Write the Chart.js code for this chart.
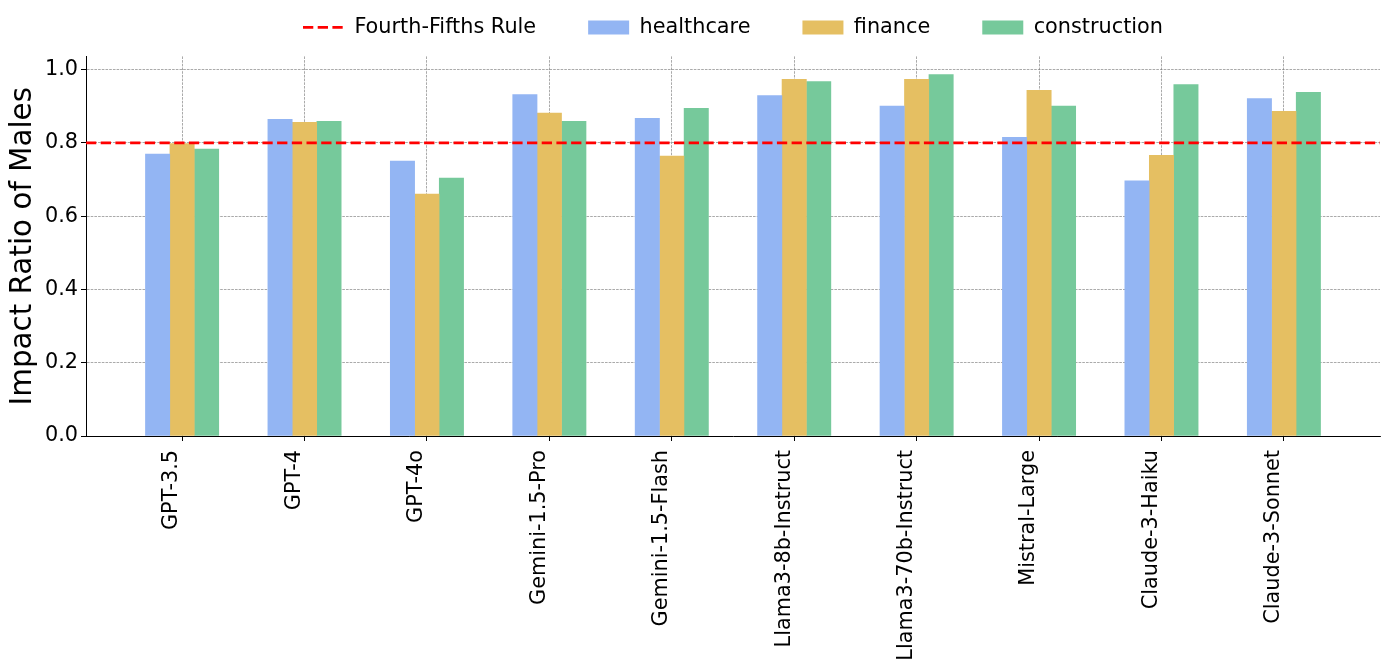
<!DOCTYPE html>
<html>
<head>
<meta charset="utf-8">
<script src="https://cdn.jsdelivr.net/npm/chart.js@4.4.1/dist/chart.umd.min.js"></script>
<style>
html, body { margin: 0; padding: 0; background: #fff; }
#wrap { width: 1389px; height: 666px; }
</style>
</head>
<body>
<div id="wrap"><canvas id="myChart"></canvas></div>
<script>
'use strict';

// values
const models = ['GPT-3.5', 'GPT-4', 'GPT-4o', 'Gemini-1.5-Pro', 'Gemini-1.5-Flash',
    'Llama3-8b-Instruct', 'Llama3-70b-Instruct', 'Mistral-Large', 'Claude-3-Haiku', 'Claude-3-Sonnet'];
const healthcare = [0.770, 0.865, 0.751, 0.933, 0.868, 0.930, 0.901, 0.816, 0.697, 0.922];
const finance = [0.799, 0.857, 0.661, 0.882, 0.765, 0.974, 0.974, 0.944, 0.767, 0.887];
const construction = [0.784, 0.860, 0.705, 0.860, 0.895, 0.968, 0.987, 0.901, 0.960, 0.939];
const ruleValue = 0.8;
const yTicks = [0, 0.2, 0.4, 0.6, 0.8, 1.0];

// axis limits (like matplotlib's autoscale)
const xMin = -0.785, xMax = models.length - 1 + 0.785;
const yMax = 1.036;

Chart.defaults.font.family = "'DejaVu Sans', sans-serif";
Chart.defaults.color = '#000';

const toPoints = arr => arr.map((v, i) => ({ x: i, y: v }));

const ctx = document.getElementById('myChart');

new Chart(ctx, {
    type: 'bar',
    data: {
        datasets: [
            {
                type: 'line',
                label: 'Fourth-Fifths Rule',
                data: [{ x: xMin, y: ruleValue }, { x: xMax, y: ruleValue }],
                borderColor: '#ff0000',
                backgroundColor: '#ff0000',
                borderWidth: 2.8,
                borderDash: [10.3, 4.4],
                pointRadius: 0,
                pointStyle: 'line',
                fill: false
            },
            { label: 'healthcare', data: toPoints(healthcare), backgroundColor: '#93b5f3', pointStyle: 'rect', borderWidth: 0 },
            { label: 'finance', data: toPoints(finance), backgroundColor: '#e5bf62', pointStyle: 'rect', borderWidth: 0 },
            { label: 'construction', data: toPoints(construction), backgroundColor: '#76c99b', pointStyle: 'rect', borderWidth: 0 }
        ]
    },
    options: {
        responsive: true,
        maintainAspectRatio: false,
        animation: false,
        categoryPercentage: 0.6,
        barPercentage: 1.02,
        layout: { padding: { left: 0, right: 9, top: -35, bottom: 0 } },
        plugins: {
            tooltip: { enabled: false },
            legend: {
                position: 'top',
                fullSize: false,
                labels: {
                    usePointStyle: true,
                    pointStyleWidth: 41,
                    boxHeight: 14,
                    padding: 52,
                    color: '#000',
                    font: { size: 20.8 },
                    generateLabels: chart => {
                        const items = Chart.defaults.plugins.legend.labels.generateLabels(chart);
                        items.forEach(it => {
                            const ds = chart.data.datasets[it.datasetIndex];
                            if (ds.type === 'line') {
                                it.lineDash = ds.borderDash;
                                it.lineWidth = ds.borderWidth;
                                it.strokeStyle = ds.borderColor;
                            }
                        });
                        return items;
                    }
                }
            }
        },
        scales: {
            x: {
                type: 'linear',
                min: xMin,
                max: xMax,
                offset: false,
                z: 1,
                afterBuildTicks: scale => { scale.ticks = models.map((m, i) => ({ value: i })); },
                afterFit: scale => { scale.height = 230; },
                ticks: {
                    autoSkip: false,
                    minRotation: 90,
                    maxRotation: 90,
                    padding: 9,
                    labelOffset: -10,
                    font: { size: 20.8 },
                    color: '#000',
                    callback: value => models[value]
                },
                grid: {
                    offset: false,
                    color: 'rgba(120,120,120,0.9)',
                    lineWidth: 0.7,
                    tickColor: '#000',
                    tickWidth: 1,
                    tickLength: 5
                },
                border: { display: true, color: '#000', width: 1, dash: [2.6, 1.1] }
            },
            top: {
                axis: 'x',
                type: 'linear',
                position: 'top',
                grid: { display: false },
                border: { display: false },
                ticks: { display: false },
                afterFit: scale => { scale.height = 8.6; }
            },
            y: {
                min: 0,
                max: yMax,
                afterBuildTicks: scale => { scale.ticks = yTicks.map(v => ({ value: v })); },
                afterFit: scale => { scale.width = 86; },
                ticks: {
                    padding: 3,
                    font: { size: 20.8 },
                    color: '#000',
                    callback: value => value.toFixed(1)
                },
                title: {
                    display: true,
                    text: 'Impact Ratio of Males',
                    font: { size: 29.4 },
                    color: '#000',
                    padding: { top: 6, bottom: 0 }
                },
                grid: {
                    color: 'rgba(120,120,120,0.9)',
                    lineWidth: 0.7,
                    tickColor: '#000',
                    tickWidth: 1,
                    tickLength: 5
                },
                border: { display: true, color: '#000', width: 1, dash: [2.6, 1.1] }
            }
        }
    }
});
</script>
</body>
</html>
